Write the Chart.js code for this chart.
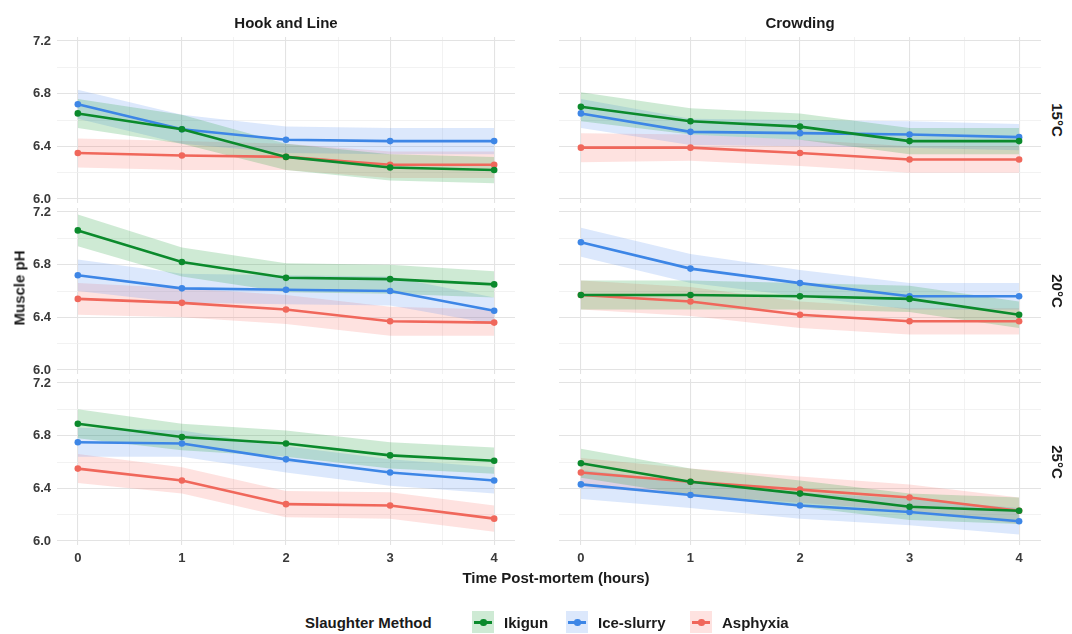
<!DOCTYPE html>
<html>
<head>
<meta charset="utf-8">
<script src="https://cdn.jsdelivr.net/npm/chart.js@4.4.1/dist/chart.umd.min.js"></script>
<style>
  body { margin: 0; background: #fff; font-family: "Liberation Sans", Arial, sans-serif; }
  #wrap { position: relative; width: 1072px; height: 634px; overflow: hidden; }
  #wrap canvas { position: absolute; }
  .txt { position: absolute; font-weight: bold; font-size: 15px; color: #1a1a1a; white-space: nowrap; }
  .key { position: absolute; width: 22px; height: 22px; }
  .key .ln { position: absolute; left: 2px; right: 2px; top: 10px; height: 2.5px; }
  .key .pt { position: absolute; left: 8px; top: 8px; width: 6.5px; height: 6.5px; border-radius: 50%; }
</style>
</head>
<body>
<div id="wrap"></div>
<script>
"use strict";

var hours = [0, 1, 2, 3, 4];
var methods = ['Ikigun', 'Ice-slurry', 'Asphyxia'];
var xTicks = [0, 0.5, 1, 1.5, 2, 2.5, 3, 3.5, 4];
var yTicks = [6.0, 6.2, 6.4, 6.6, 6.8, 7.0, 7.2];

// Hook and Line
var hook15Ikigun = [6.65, 6.53, 6.32, 6.24, 6.22];
var hook15Ice    = [6.72, 6.53, 6.45, 6.44, 6.44];
var hook15Asph   = [6.35, 6.33, 6.32, 6.26, 6.26];
var hook20Ikigun = [7.06, 6.82, 6.70, 6.69, 6.65];
var hook20Ice    = [6.72, 6.62, 6.61, 6.60, 6.45];
var hook20Asph   = [6.54, 6.51, 6.46, 6.37, 6.36];
var hook25Ikigun = [6.89, 6.79, 6.74, 6.65, 6.61];
var hook25Ice    = [6.75, 6.74, 6.62, 6.52, 6.46];
var hook25Asph   = [6.55, 6.46, 6.28, 6.27, 6.17];

// Crowding
var crowd15Ikigun = [6.70, 6.59, 6.55, 6.44, 6.44];
var crowd15Ice    = [6.65, 6.51, 6.50, 6.49, 6.47];
var crowd15Asph   = [6.39, 6.39, 6.35, 6.30, 6.30];
var crowd20Ikigun = [6.57, 6.57, 6.56, 6.54, 6.42];
var crowd20Ice    = [6.97, 6.77, 6.66, 6.56, 6.56];
var crowd20Asph   = [6.57, 6.52, 6.42, 6.37, 6.37];
var crowd25Ikigun = [6.59, 6.45, 6.36, 6.26, 6.23];
var crowd25Ice    = [6.43, 6.35, 6.27, 6.22, 6.15];
var crowd25Asph   = [6.52, 6.45, 6.39, 6.33, 6.23];

// ribbon half widths (per panel)
var hook15Band  = [0.11, 0.11, 0.10, 0.10, 0.10];
var hook20Band  = [0.12, 0.11, 0.11, 0.11, 0.10];
var hook25Band  = [0.11, 0.10, 0.10, 0.10, 0.10];
var crowd15Band = [0.11, 0.10, 0.10, 0.10, 0.10];
var crowd20Band = [0.11, 0.11, 0.10, 0.10, 0.10];
var crowd25Band = [0.11, 0.10, 0.10, 0.10, 0.10];

var lineColors = ['#0b8a2c', '#3d86e6', '#f0675b'];
var bandColors = ['rgba(30,160,60,0.22)', 'rgba(80,140,240,0.2)', 'rgba(248,110,100,0.2)'];

Chart.defaults.font.family = '"Liberation Sans", Arial, sans-serif';

var wrap = document.getElementById('wrap');
var cols = [{x: 0, w: 515, axisW: 57}, {x: 559, w: 482, axisW: 0}];
var rowTop = [37, 208, 379];
var panelH = 166;
var pad = 8;   // room for the half of the 7.2 / 6.0 labels outside the panel

function pts(vals, band, sign){
    return hours.map(function(h, j){ return {x: h, y: vals[j] + sign * band[j]}; });
}

function noPad(a){
    a.paddingTop = 0; a.paddingBottom = 0; a.paddingLeft = 0; a.paddingRight = 0;
}

function makePanel(col, row, series, band){
    var bottom = row == 2;
    var c = document.createElement('canvas');
    c.width = col.w;
    c.height = panelH + pad + (bottom ? 26 : pad);
    c.style.left = col.x + 'px';
    c.style.top = (rowTop[row] - pad) + 'px';
    wrap.appendChild(c);

    var datasets = [];
    series.forEach(function(vals, i){
        datasets.push({data: pts(vals, band, -1), borderWidth: 0, pointRadius: 0, fill: false});
        datasets.push({data: pts(vals, band, 1), borderWidth: 0, pointRadius: 0, fill: '-1', backgroundColor: bandColors[i]});
        datasets.push({label: methods[i], data: pts(vals, band, 0), borderColor: lineColors[i], backgroundColor: lineColors[i],
            borderWidth: 2.6, pointRadius: 3.3, pointBorderWidth: 0, fill: false, tension: 0});
    });

    new Chart(c, {
        type: 'line',
        data: {datasets: datasets},
        options: {
            responsive: false,
            animation: false,
            layout: {padding: {top: pad, bottom: bottom ? 0 : pad, left: 0, right: 0}, autoPadding: false},
            plugins: {
                legend: {display: false},
                tooltip: {enabled: false},
                filler: {drawTime: 'beforeDatasetsDraw'}
            },
            scales: {
                x: {
                    type: 'linear', min: -0.2, max: 4.2,
                    afterBuildTicks: function(a){ a.ticks = xTicks.map(function(v){ return {value: v}; }); },
                    afterFit: function(a){ a.height = bottom ? 26 : 0; noPad(a); },
                    border: {display: false},
                    grid: {
                        drawTicks: false,
                        color: function(ctx){ return Number.isInteger(ctx.tick.value) ? '#e3e3e3' : '#efefef'; },
                        lineWidth: function(ctx){ return Number.isInteger(ctx.tick.value) ? 1.1 : 0.8; }
                    },
                    ticks: {
                        display: bottom, autoSkip: false, maxRotation: 0, padding: 6,
                        color: '#3a3a3a', font: {size: 13, weight: 'bold'},
                        callback: function(v){ return Number.isInteger(v) ? v : ''; }
                    }
                },
                y: {
                    min: 5.97, max: 7.23,
                    afterBuildTicks: function(a){ a.ticks = yTicks.map(function(v){ return {value: v}; }); },
                    afterFit: function(a){ a.width = col.axisW; noPad(a); },
                    border: {display: false},
                    grid: {
                        drawTicks: false,
                        color: function(ctx){ return Math.round(ctx.tick.value * 10) % 4 == 0 ? '#e3e3e3' : '#efefef'; },
                        lineWidth: function(ctx){ return Math.round(ctx.tick.value * 10) % 4 == 0 ? 1.1 : 0.8; }
                    },
                    ticks: {
                        display: col.axisW > 0, autoSkip: false, padding: 6,
                        color: '#3a3a3a', font: {size: 13, weight: 'bold'},
                        callback: function(v){ return Math.round(v * 10) % 4 == 0 ? v.toFixed(1) : ''; }
                    }
                }
            }
        }
    });
}

makePanel(cols[0], 0, [hook15Ikigun, hook15Ice, hook15Asph], hook15Band);
makePanel(cols[0], 1, [hook20Ikigun, hook20Ice, hook20Asph], hook20Band);
makePanel(cols[0], 2, [hook25Ikigun, hook25Ice, hook25Asph], hook25Band);
makePanel(cols[1], 0, [crowd15Ikigun, crowd15Ice, crowd15Asph], crowd15Band);
makePanel(cols[1], 1, [crowd20Ikigun, crowd20Ice, crowd20Asph], crowd20Band);
makePanel(cols[1], 2, [crowd25Ikigun, crowd25Ice, crowd25Asph], crowd25Band);

function addText(str, x, y, rot){
    var d = document.createElement('div');
    d.className = 'txt';
    d.textContent = str;
    d.style.left = x + 'px';
    d.style.top = y + 'px';
    d.style.transform = 'translate(-50%,-50%)' + (rot ? ' rotate(' + rot + 'deg)' : '');
    wrap.appendChild(d);
    return d;
}

// strips and axis titles
addText('Hook and Line', 286, 22);
addText('Crowding', 800, 22);
addText('15°C', 1057, 120, 90);
addText('20°C', 1057, 291, 90);
addText('25°C', 1057, 462, 90);
addText('Muscle pH', 19, 288, -90);
addText('Time Post-mortem (hours)', 556, 577);

// legend
var lg = document.createElement('div');
lg.className = 'txt';
lg.textContent = 'Slaughter Method';
lg.style.left = '305px'; lg.style.top = '614px';
wrap.appendChild(lg);

var keyX = [472, 566, 690];
methods.forEach(function(m, i){
    var k = document.createElement('div');
    k.className = 'key';
    k.style.left = keyX[i] + 'px';
    k.style.top = '611px';
    k.style.background = bandColors[i];
    k.innerHTML = '<div class="ln" style="background:' + lineColors[i] + '"></div><div class="pt" style="background:' + lineColors[i] + '"></div>';
    wrap.appendChild(k);
    var t = document.createElement('div');
    t.className = 'txt';
    t.textContent = m;
    t.style.left = (keyX[i] + 32) + 'px';
    t.style.top = '614px';
    wrap.appendChild(t);
});
</script>
</body>
</html>
